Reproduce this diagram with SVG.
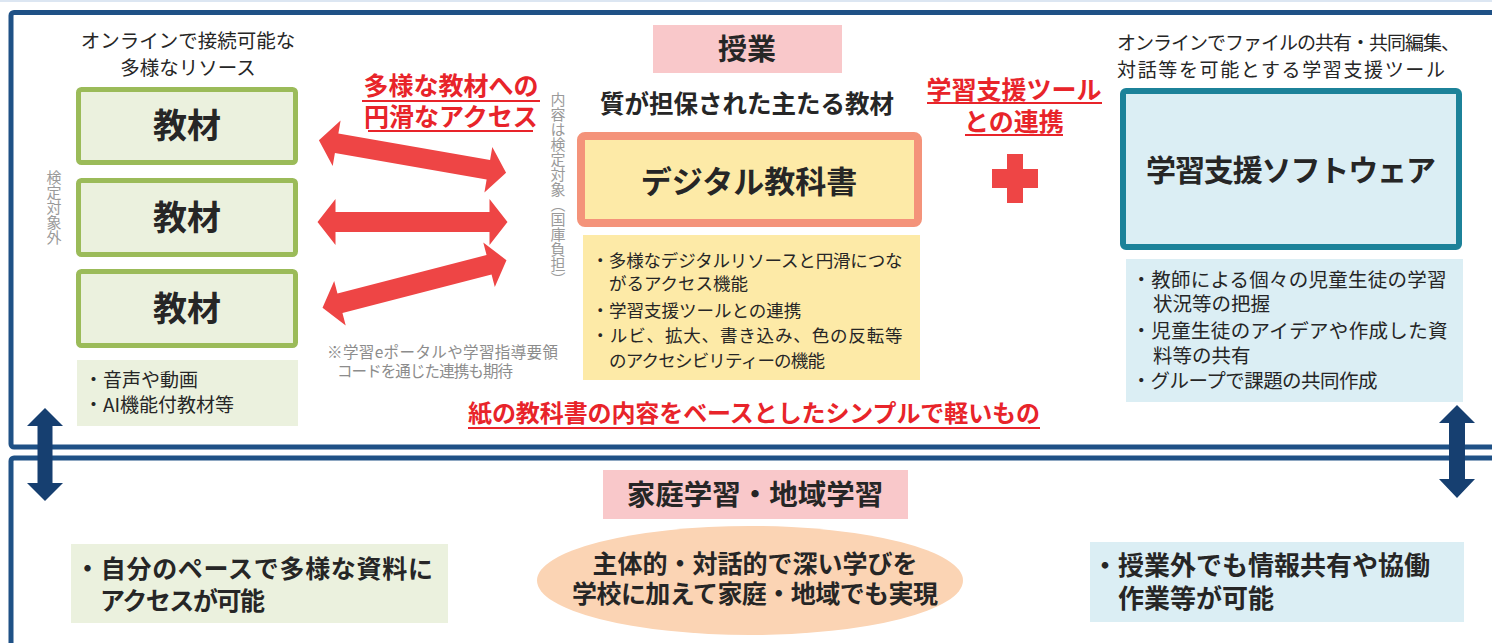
<svg xmlns="http://www.w3.org/2000/svg" width="1492" height="643" viewBox="0 0 1492 643">
<style>
text{font-family:'Noto Sans CJK JP','Noto Sans',sans-serif;fill:#262626}
.b{font-weight:700}
.n{font-weight:400}
.red{fill:#E8242A;font-weight:700}
.gray{fill:#8C8C8C;font-weight:400}
.vert{writing-mode:vertical-rl;fill:#9A9A9A;font-size:15px}
.frame{fill:none;stroke:#1F5186;stroke-width:5}
.gbox{fill:#EBF1DE;stroke:#9BBB59;stroke-width:5}
.ul{stroke:#E8242A;stroke-width:2.2}
.c{text-anchor:middle}
.ra{fill:#EE4545}
.ba{fill:#163F70}
</style>
<defs>
<polygon id="dbl" points="-95,0 -77,-23 -77,-10 77,-10 77,-23 95,0 77,23 77,10 -77,10 -77,23"/>
</defs>
<rect x="0" y="0" width="1492" height="643" fill="#FFFFFF"/>
<rect x="0" y="0" width="1492" height="2" fill="#DCE6F2"/>
<g id="frames">
<rect class="frame" x="11" y="12.5" width="1500" height="434.5" rx="3"/>
<rect class="frame" x="11" y="458" width="1500" height="200" rx="3"/>
</g>

<g id="left-title">
<text class="n c" x="188" y="48" font-size="19.5">オンラインで接続可能な</text>
<text class="n c" x="188" y="75" font-size="19.5">多様なリソース</text>
</g>
<g id="kyozai1"><rect class="gbox" x="78.5" y="89.5" width="217" height="73" rx="3"/><text class="b c" x="187" y="138" font-size="34">教材</text></g>
<g id="kyozai2"><rect class="gbox" x="78.5" y="180.5" width="217" height="74" rx="3"/><text class="b c" x="187" y="230" font-size="34">教材</text></g>
<g id="kyozai3"><rect class="gbox" x="78.5" y="271.5" width="217" height="74" rx="3"/><text class="b c" x="187" y="321" font-size="34">教材</text></g>
<g id="left-note">
<rect x="77" y="360" width="221" height="66" fill="#EBF1DE"/>
<text class="n" x="84" y="387" font-size="19">・音声や動画</text>
<text class="n" x="84" y="412" font-size="19">・AI機能付教材等</text>
</g>
<g id="label-kentei-gai"><text class="vert" x="54" y="170">検定対象外</text></g>

<g id="access-label">
<text class="red c" x="451" y="95" font-size="25">多様な教材への</text>
<line class="ul" x1="362" y1="101" x2="540" y2="101"/>
<text class="red c" x="451" y="126" font-size="25">円滑なアクセス</text>
<line class="ul" x1="368" y1="131" x2="533" y2="131"/>
</g>
<g id="label-kentei"><text class="vert" x="558" y="92">内容は検定対象（国庫負担）</text></g>
<g id="portal-note">
<text class="gray" x="327" y="358" font-size="15.5" textLength="231">※学習eポータルや学習指導要領</text>
<text class="gray" x="337" y="377" font-size="15.5" textLength="176">コードを通じた連携も期待</text>
</g>

<g id="jugyo">
<rect x="653" y="25" width="189" height="48" fill="#F9C8CA"/>
<text class="b c" x="747" y="60" font-size="29">授業</text>
</g>
<g id="main-caption"><text class="b c" x="747" y="113" font-size="24.5">質が担保された主たる教材</text></g>
<g id="digital-textbook">
<rect x="581" y="136" width="337" height="87" rx="4" fill="#FDEAA7" stroke="#F4937A" stroke-width="8"/>
<text class="b c" x="749" y="193" font-size="31">デジタル教科書</text>
</g>
<g id="dt-note">
<rect x="583" y="235" width="337" height="145" fill="#FDEAA7"/>
<text class="n" x="591.5" y="267" font-size="17.5" textLength="311">・多様なデジタルリソースと円滑につな</text>
<text class="n" x="609" y="290" font-size="17.5">がるアクセス機能</text>
<text class="n" x="591.5" y="317" font-size="17.5">・学習支援ツールとの連携</text>
<text class="n" x="591.5" y="342" font-size="17.5" textLength="311">・ルビ、拡大、書き込み、色の反転等</text>
<text class="n" x="609" y="367" font-size="17.5" textLength="216">のアクセシビリティーの機能</text>
</g>
<g id="simple-label">
<text class="red" x="468" y="422" font-size="24" textLength="572">紙の教科書の内容をベースとしたシンプルで軽いもの</text>
<line class="ul" x1="468" y1="428" x2="1040" y2="428"/>
</g>

<g id="tool-label">
<text class="red c" x="1014" y="99" font-size="25">学習支援ツール</text>
<line class="ul" x1="927" y1="103" x2="1102" y2="103"/>
<text class="red c" x="1014" y="131" font-size="25">との連携</text>
<line class="ul" x1="965" y1="135" x2="1063" y2="135"/>
</g>
<g id="plus">
<rect x="992" y="169" width="46" height="19" fill="#EE4545"/>
<rect x="1007" y="154" width="16" height="49" fill="#EE4545"/>
</g>

<g id="right-title">
<text class="n" x="1117" y="50" font-size="19" textLength="343">オンラインでファイルの共有・共同編集、</text>
<text class="n" x="1117" y="77" font-size="19" textLength="328">対話等を可能とする学習支援ツール</text>
</g>
<g id="software">
<rect x="1123" y="91" width="336" height="156" rx="3" fill="#DBEEF4" stroke="#1C8299" stroke-width="6"/>
<text class="b c" x="1291" y="181" font-size="30" textLength="290">学習支援ソフトウェア</text>
</g>
<g id="software-note">
<rect x="1126" y="259" width="337" height="143" fill="#DBEEF4"/>
<text class="n" x="1131.5" y="287" font-size="19.5" textLength="315">・教師による個々の児童生徒の学習</text>
<text class="n" x="1153" y="311" font-size="19.5">状況等の把握</text>
<text class="n" x="1131.5" y="338" font-size="19.5" textLength="316">・児童生徒のアイデアや作成した資</text>
<text class="n" x="1153" y="363" font-size="19.5">料等の共有</text>
<text class="n" x="1131.5" y="388" font-size="19.5" textLength="246">・グループで課題の共同作成</text>
</g>

<g id="home-label">
<rect x="603" y="470" width="305" height="49" fill="#F9C8CA"/>
<text class="b c" x="755" y="505" font-size="28.5">家庭学習・地域学習</text>
</g>
<g id="home-left">
<rect x="71" y="544" width="377" height="79" fill="#EBF1DE"/>
<text class="b" x="75" y="578" font-size="25" textLength="358">・自分のペースで多様な資料に</text>
<text class="b" x="100" y="610" font-size="25" textLength="165">アクセスが可能</text>
</g>
<g id="home-center">
<ellipse cx="750" cy="580.5" rx="213" ry="54.5" fill="#FBD4B4"/>
<text class="b c" x="755" y="573" font-size="25">主体的・対話的で深い学びを</text>
<text class="b c" x="755" y="603" font-size="25" textLength="366">学校に加えて家庭・地域でも実現</text>
</g>
<g id="home-right">
<rect x="1090" y="542" width="374" height="80" fill="#DBEEF4"/>
<text class="b" x="1092" y="575" font-size="26" textLength="338">・授業外でも情報共有や協働</text>
<text class="b" x="1118" y="608" font-size="26">作業等が可能</text>
</g>

<g id="connectors">
<use href="#dbl" class="ra" transform="translate(412.5,156.5) rotate(9.9)"/>
<use href="#dbl" class="ra" transform="translate(412.5,222)"/>
<use href="#dbl" class="ra" transform="translate(414.5,284) rotate(-14.5)"/>
<polygon class="ba" points="45,408 63,426 52.5,426 52.5,483 63,483 45,501 27,483 37.5,483 37.5,426 27,426"/>
<polygon class="ba" points="1457,405 1475,423 1465,423 1465,479 1475,479 1457,498 1439,479 1449,479 1449,423 1439,423"/>
</g>
</svg>
